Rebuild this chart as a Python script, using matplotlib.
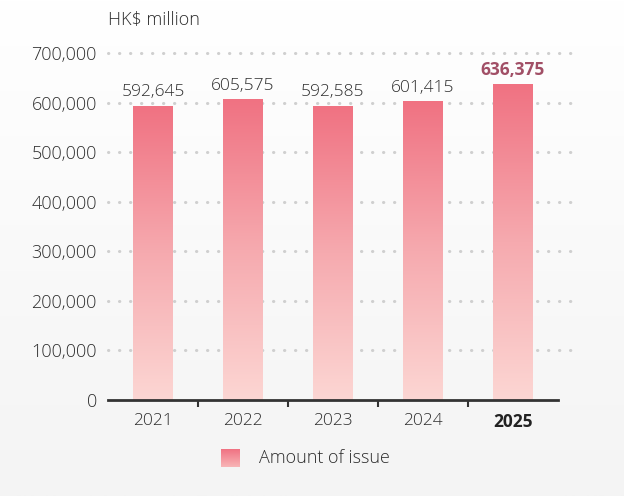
import numpy as np
import matplotlib.pyplot as plt
from matplotlib.colors import LinearSegmentedColormap
from matplotlib.patches import Rectangle

plt.rcParams['font.family'] = ['Open Sans', 'DejaVu Sans']
plt.rcParams['font.weight'] = 300

# data
years = ['2021', '2022', '2023', '2024', '2025']
amounts = [592645, 605575, 592585, 601415, 636375]
yticks = [0, 100000, 200000, 300000, 400000, 500000, 600000, 700000]

bar_cmap = LinearSegmentedColormap.from_list('bar', ['#fcd6d3', '#f6aaaf', '#f07282'])
grad = np.linspace(0, 1, 256).reshape(-1, 1)
txt = '#2e2e2e'

fig = plt.figure(figsize=(6.24, 4.96), dpi=100)

# background gradient
bg = fig.add_axes([0, 0, 1, 1], zorder=-10)
bg_cmap = LinearSegmentedColormap.from_list('bg', ['#f4f4f4', '#ffffff'])
bg.imshow(grad, cmap=bg_cmap, aspect='auto', origin='lower', extent=(0, 1, 0, 1))
bg.axis('off')

ax = fig.add_axes([0.173, 0.1935, 0.721, 0.6995])
ax.patch.set_alpha(0)
x = np.arange(len(years))
w = 0.44

ax.set_xlim(-0.5, len(years) - 0.5)
ax.set_ylim(0, 700000)

# dotted gridlines
for yv in yticks[1:]:
    ax.plot([-0.5, 4.66], [yv, yv], color='#cfcfcf', lw=2.2,
            ls=(0, (0.1, 3.5)), dash_capstyle='round', clip_on=False, zorder=1)

# gradient bars
for xi, v in zip(x, amounts):
    ax.imshow(grad, cmap=bar_cmap, aspect='auto', origin='lower',
              extent=(xi - w / 2, xi + w / 2, 0, v), zorder=2)
    ax.add_patch(Rectangle((xi - w / 2, 0), w, v, fill=False, lw=0))

for i, (xi, v) in enumerate(zip(x, amounts)):
    last = i == len(amounts) - 1
    ax.text(xi, v + 12000, f'{v:,}', ha='center', va='bottom', fontsize=12.5,
            color='#a14f66' if last else txt,
            fontweight='bold' if last else 300)

ax.set_xlim(-0.5, len(years) - 0.5)
ax.set_ylim(0, 700000)

for s in ['top', 'right', 'left']:
    ax.spines[s].set_visible(False)
ax.spines['bottom'].set_linewidth(2)
ax.spines['bottom'].set_color('#333333')
ax.spines['bottom'].set_zorder(5)

ax.set_yticks(yticks)
ax.set_yticklabels([f'{v:,}' for v in yticks], fontsize=13, color=txt)
ax.tick_params(axis='y', length=0, pad=8)

ax.set_xticks(x)
ax.set_xticklabels(years, fontsize=12.5, color=txt)
ax.set_xticks([0.5, 1.5, 2.5, 3.5], minor=True)
ax.tick_params(axis='x', which='major', length=0, pad=9)
ax.tick_params(axis='x', which='minor', length=5, width=1.5, color='#333333')
lbl = ax.get_xticklabels()[-1]
lbl.set_fontweight('bold')
lbl.set_color('#222222')

fig.text(108 / 624, 1 - 20 / 496, 'HK$ million', fontsize=13, color=txt,
         ha='left', va='center')

# legend
lax = fig.add_axes([221 / 624, 1 - 467 / 496, 18 / 624, 18 / 496])
lax.imshow(grad, cmap=LinearSegmentedColormap.from_list('lg', ['#f8b5b7', '#f07282']),
           aspect='auto', origin='lower', extent=(0, 1, 0, 1))
lax.axis('off')
fig.text(259 / 624, 1 - 458 / 496, 'Amount of issue', fontsize=13, color=txt,
         ha='left', va='center')

fig.savefig('out.png', dpi=100)
